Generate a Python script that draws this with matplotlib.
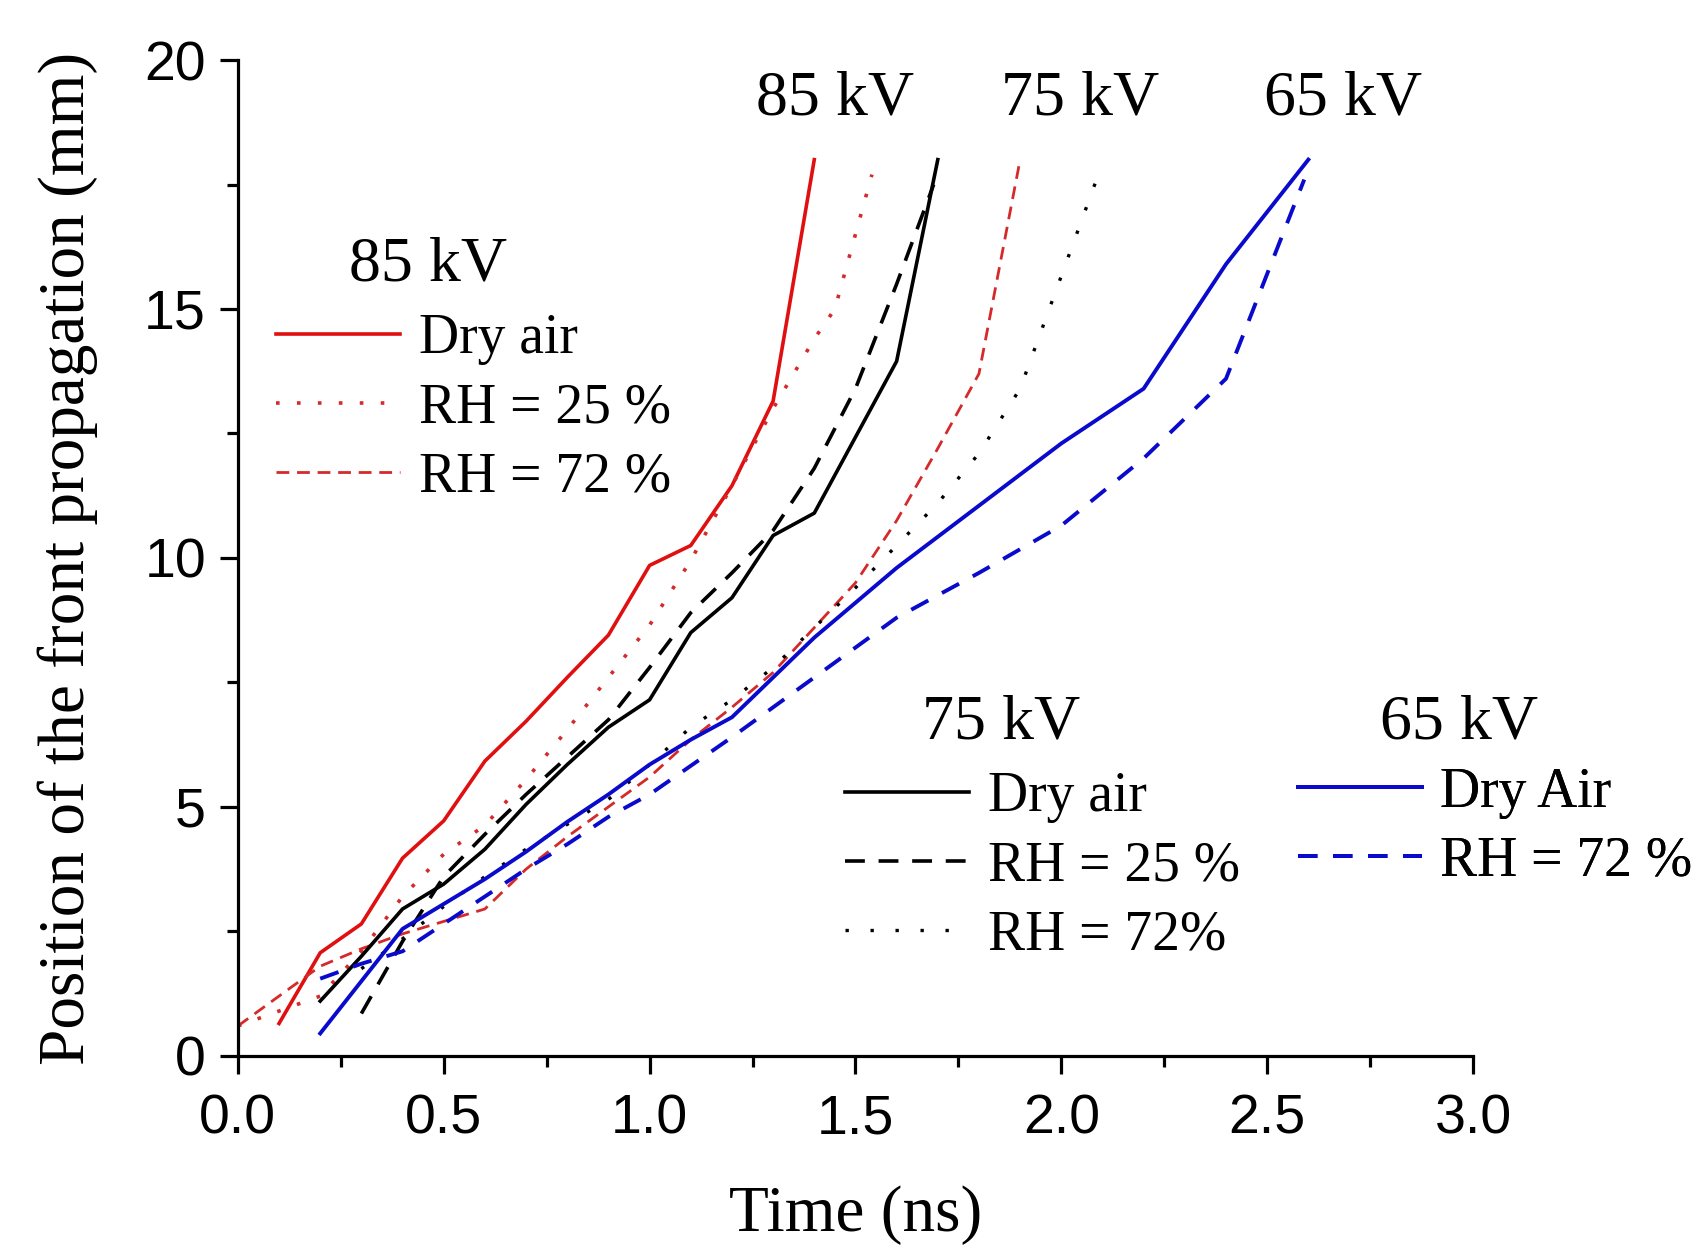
import numpy as np
import matplotlib
matplotlib.use('Agg')
import matplotlib.pyplot as plt
from matplotlib.lines import Line2D
from matplotlib.ticker import MultipleLocator

# 85 kV
t85_dry = [0.1, 0.2, 0.3, 0.4, 0.5, 0.6, 0.7, 0.8, 0.9, 1.0, 1.1, 1.2, 1.3, 1.4]
v85_dry = [0.65, 2.07, 2.65, 3.97, 4.72, 5.92, 6.72, 7.6, 8.45, 9.85, 10.25, 11.45, 13.15, 18.0]
t85_rh25 = [0.0, 0.1, 0.2, 0.3, 0.4, 0.5, 0.6, 0.7, 0.8, 0.9, 1.0, 1.1, 1.2, 1.3, 1.4, 1.45, 1.54]
v85_rh25 = [0.6, 0.9, 1.2, 2.1, 3.2, 4.05, 4.63, 5.55, 6.55, 7.6, 8.65, 9.95, 11.45, 13.0, 14.4, 15.0, 17.7]
t85_rh72 = [0.0, 0.1, 0.2, 0.3, 0.4, 0.5, 0.6, 0.7, 0.8, 0.9, 1.0, 1.1, 1.2, 1.3, 1.4, 1.5, 1.6, 1.7, 1.8, 1.9]
v85_rh72 = [0.6, 1.2, 1.8, 2.15, 2.45, 2.7, 2.95, 3.75, 4.4, 5.0, 5.6, 6.35, 7.0, 7.7, 8.6, 9.5, 10.75, 12.2, 13.7, 18.0]

# 75 kV
t75_dry = [0.2, 0.3, 0.4, 0.5, 0.6, 0.7, 0.8, 0.9, 1.0, 1.1, 1.2, 1.3, 1.4, 1.6, 1.7]
v75_dry = [1.1, 2.0, 2.95, 3.45, 4.15, 5.05, 5.85, 6.6, 7.15, 8.5, 9.2, 10.45, 10.9, 13.95, 18.0]
t75_rh25 = [0.3, 0.4, 0.5, 0.6, 0.7, 0.8, 0.9, 1.0, 1.1, 1.2, 1.3, 1.4, 1.5, 1.6, 1.69]
v75_rh25 = [0.85, 2.3, 3.6, 4.45, 5.25, 6.0, 6.75, 7.8, 8.9, 9.7, 10.55, 11.8, 13.4, 15.5, 17.5]
t75_rh72 = [0.3, 0.4, 0.5, 0.6, 0.7, 0.8, 0.9, 1.0, 1.1, 1.2, 1.3, 1.4, 1.5, 1.6, 1.7, 1.8, 1.9, 2.09]
v75_rh72 = [1.75, 2.35, 3.0, 3.6, 4.15, 4.65, 5.15, 5.85, 6.6, 7.15, 7.8, 8.6, 9.4, 10.25, 11.1, 12.1, 13.4, 17.7]

# 65 kV
t65_dry = [0.2, 0.3, 0.4, 0.5, 0.6, 0.7, 0.8, 0.9, 1.0, 1.1, 1.2, 1.3, 1.4, 1.6, 1.8, 2.0, 2.2, 2.4, 2.6]
v65_dry = [0.45, 1.5, 2.55, 3.05, 3.55, 4.1, 4.7, 5.25, 5.85, 6.35, 6.8, 7.6, 8.4, 9.8, 11.05, 12.3, 13.4, 15.9, 18.0]
t65_rh72 = [0.2, 0.3, 0.4, 0.5, 0.6, 0.7, 0.8, 0.9, 1.0, 1.2, 1.4, 1.6, 1.8, 2.0, 2.2, 2.4, 2.59]
v65_rh72 = [1.55, 1.85, 2.1, 2.65, 3.2, 3.75, 4.25, 4.8, 5.25, 6.4, 7.6, 8.8, 9.7, 10.65, 12.0, 13.6, 17.6]

RED = '#e01010'
RED2 = '#d42a2a'
BLUE = '#0a0acc'
SERIF = 'Liberation Serif'

fig = plt.figure(figsize=(16.99, 12.51), dpi=100)
ax = fig.add_axes([0.140, 0.156, 0.727, 0.796])

styles = {
    'r_dry': dict(color=RED, lw=2.6, ls='-'),
    'r_25': dict(color=RED2, lw=2.6, ls=(0, (1, 4.8))),
    'r_72': dict(color=RED2, lw=2.0, ls=(0, (4.6, 2.8))),
    'k_dry': dict(color='black', lw=2.6, ls='-'),
    'k_25': dict(color='black', lw=2.6, ls=(0, (5.5, 3.8))),
    'k_72': dict(color='black', lw=2.4, ls=(0, (1, 6.5))),
    'b_dry': dict(color=BLUE, lw=2.8, ls='-'),
    'b_72': dict(color=BLUE, lw=2.8, ls=(0, (5, 4))),
}

ax.plot(t85_dry, v85_dry, **styles['r_dry'])
ax.plot(t85_rh25, v85_rh25, **styles['r_25'])
ax.plot(t85_rh72, v85_rh72, **styles['r_72'])
ax.plot(t75_dry, v75_dry, **styles['k_dry'])
ax.plot(t75_rh25, v75_rh25, **styles['k_25'])
ax.plot(t75_rh72, v75_rh72, **styles['k_72'])
ax.plot(t65_dry, v65_dry, **styles['b_dry'])
ax.plot(t65_rh72, v65_rh72, **styles['b_72'])

ax.set_xlim(0, 3.0)
ax.set_ylim(0, 20)
ax.spines['top'].set_visible(False)
ax.spines['right'].set_visible(False)
for s in ['left', 'bottom']:
    ax.spines[s].set_linewidth(2.3)
ax.xaxis.set_major_locator(MultipleLocator(0.5))
ax.xaxis.set_minor_locator(MultipleLocator(0.25))
ax.yaxis.set_major_locator(MultipleLocator(5))
ax.yaxis.set_minor_locator(MultipleLocator(2.5))
ax.xaxis.set_major_formatter(matplotlib.ticker.FormatStrFormatter('%.1f'))
ax.tick_params(which='major', length=13, width=2.3, direction='out')
ax.tick_params(which='minor', length=8, width=2.3, direction='out')
ax.tick_params(axis='x', which='major', pad=14)
ax.tick_params(axis='y', which='major', pad=10)
for lab in ax.get_xticklabels() + ax.get_yticklabels():
    lab.set_fontfamily('Liberation Sans')
    lab.set_fontsize(40)

ax.set_xlabel('Time (ns)', fontsize=47, family=SERIF)
ax.set_ylabel('Position of the front propagation (mm)', fontsize=47, family=SERIF)
ax.xaxis.set_label_coords(0.5, -0.13)
ax.yaxis.set_label_coords(-0.113, 0.5)

# voltage labels at the top of the curves
for x, lab in [(1.45, '85 kV'), (2.045, '75 kV'), (2.684, '65 kV')]:
    ax.text(x, 19.2, lab, fontsize=46, family=SERIF, ha='center', va='center')

# legend titles
for x, y, lab in [(0.463, 15.87, '85 kV'), (1.855, 6.67, '75 kV'), (2.966, 6.67, '65 kV')]:
    ax.text(x, y, lab, fontsize=46, family=SERIF, ha='center', va='center', clip_on=False)

def make_legend(keys, labels, anchor):
    handles = [Line2D([], [], **styles[k]) for k in keys]
    leg = ax.legend(handles, labels, loc='center left', bbox_to_anchor=anchor,
                    bbox_transform=ax.transData, frameon=False, borderpad=0,
                    borderaxespad=0, handlelength=2.24, handletextpad=0.33,
                    labelspacing=0.31, prop={'family': SERIF, 'size': 40})
    ax.add_artist(leg)
    return leg

make_legend(['r_dry', 'r_25', 'r_72'], ['Dry air', 'RH = 25 %', 'RH = 72 %'], (0.092, 13.0))
make_legend(['k_dry', 'k_25', 'k_72'], ['Dry air', 'RH = 25 %', 'RH = 72%'], (1.474, 3.80))
make_legend(['b_dry', 'b_72'], ['Dry Air', 'RH = 72 %'], (2.574, 4.59))

fig.savefig('out.png', dpi=100, facecolor='white')
